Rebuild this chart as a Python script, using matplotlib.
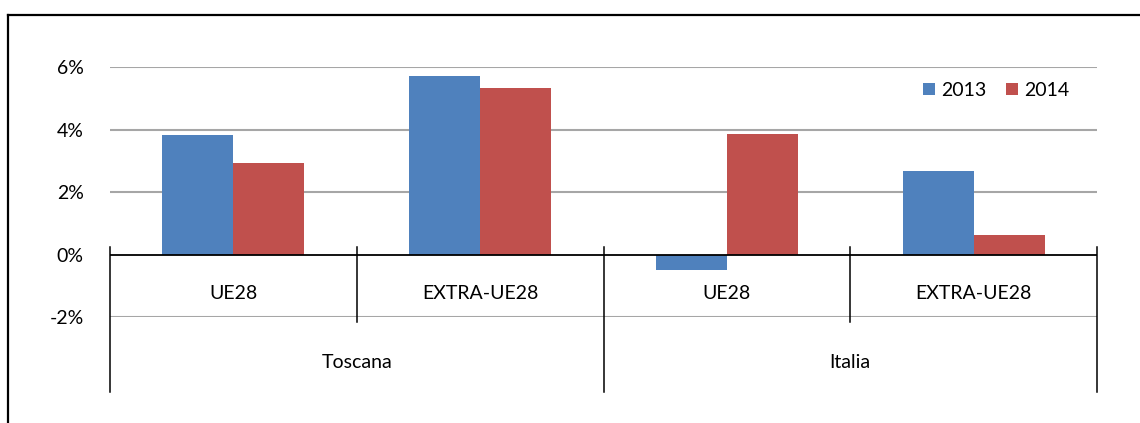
import matplotlib
matplotlib.use("Agg")
import matplotlib.pyplot as plt
import matplotlib.transforms as mtransforms
from matplotlib.lines import Line2D

plt.rcParams['font.family'] = ['Lato', 'DejaVu Sans']

# data
areas = ["Toscana", "Italia"]
partners = ["UE28", "EXTRA-UE28", "UE28", "EXTRA-UE28"]
years = ["2013", "2014"]
v2013 = [3.81, 5.70, -0.48, 2.66]
v2014 = [2.94, 5.34, 3.87, 0.61]
yticks = [-2, 0, 2, 4, 6]

blue = "#4F81BD"
red = "#C0504D"
fs = 14

W, H = 1140, 423
fig = plt.figure(figsize=(W / 100, H / 100), dpi=100)
ax = fig.add_axes([110 / W, (H - 317) / H, (1097 - 110) / W, (317 - 67) / H])

x = range(len(partners))
bw = 0.288
ax.bar([i - bw / 2 for i in x], v2013, width=bw, color=blue, label=years[0], zorder=3)
ax.bar([i + bw / 2 for i in x], v2014, width=bw, color=red, label=years[1], zorder=3)

ax.set_xlim(-0.5, len(partners) - 0.5)
ax.set_ylim(-2, 6)
ax.set_yticks(yticks)
ax.set_yticklabels([f"{t}%" for t in yticks], fontsize=fs)
ax.tick_params(axis='y', length=0, pad=19)
ax.tick_params(axis='x', length=0, labelbottom=False)
for s in ax.spines.values():
    s.set_visible(False)

# gridlines and zero axis
for t in yticks:
    if t == 0:
        ax.axhline(0, color="black", lw=1.3, zorder=4)
    else:
        ax.axhline(t, color="#A6A6A6", lw=1.5, zorder=1)

# multi-level category axis
tr = mtransforms.blended_transform_factory(ax.transData, ax.transAxes)
for i in range(len(partners) + 1):
    xb = i - 0.5
    outer = i % 2 == 0
    ax.plot([xb, xb], [0.28, -0.3 if outer else -0.02], transform=tr,
            color="black", lw=1.1, clip_on=False)
for i, p in enumerate(partners):
    ax.text(i, 0.096, p, transform=tr, ha="center", va="center", fontsize=fs)
for j, a in enumerate(areas):
    ax.text(2 * j + 0.5, -0.18, a, transform=tr, ha="center", va="center", fontsize=fs)

ax.legend(loc="upper right", bbox_to_anchor=(0.99, 1.01), frameon=False,
          ncol=2, fontsize=fs, handlelength=0.6, handleheight=0.6,
          handletextpad=0.35, columnspacing=1.0)

# chart border (top and left visible)
fig.add_artist(Line2D([8 / W, 1.0], [1 - 15 / H, 1 - 15 / H], color="black", lw=1.6))
fig.add_artist(Line2D([8 / W, 8 / W], [0.0, 1 - 15 / H], color="black", lw=1.6))

fig.savefig("out.png", dpi=100)
